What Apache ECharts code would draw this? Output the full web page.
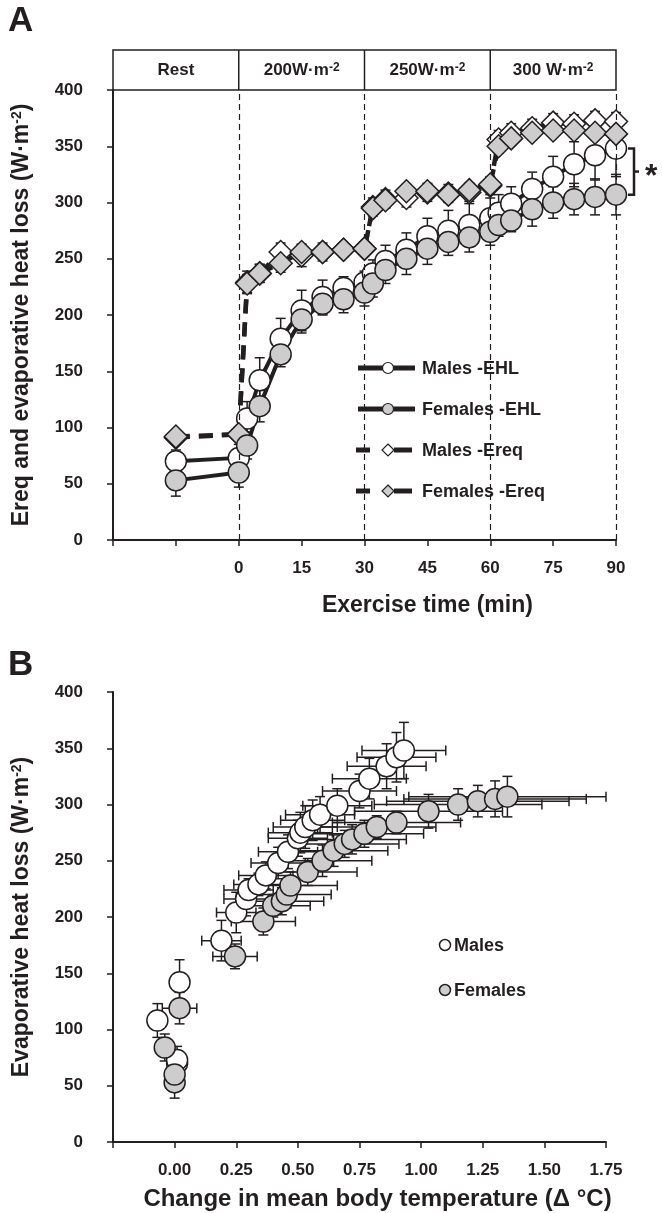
<!DOCTYPE html>
<html><head><meta charset="utf-8">
<script src="https://cdn.jsdelivr.net/npm/echarts@6/dist/echarts.min.js"></script>
<style>html,body{margin:0;padding:0;background:#fff}#c{width:662px;height:1213px}</style>
</head><body><div id="c"></div>
<script>
// ---------- DATA ----------
const timeMin = [-15, 0, 2, 5, 10, 15, 20, 25, 30, 32, 35, 40, 45, 50, 55, 60, 62, 65, 70, 75, 80, 85, 90];
const maleEHL = [70, 73, 108, 142, 179, 204, 216, 224, 229, 237, 248, 258, 270, 275, 280, 286, 291, 299, 312, 323, 334, 342, 348];
const maleEHLErr = [10, 12, 15, 20, 18, 18, 15, 10, 10, 12, 14, 15, 16, 18, 19, 18, 16, 15, 15, 18, 20, 22, 25];
const femaleEHL = [53, 60, 84, 119, 165, 196, 210, 214, 220, 228, 240, 250, 259, 265, 269, 274, 280, 284, 294, 300, 303, 305, 307];
const femaleEHLErr = [14, 13, 12, 14, 11, 12, 10, 12, 12, 12, 12, 14, 14, 12, 13, 12, 10, 10, 15, 14, 14, 16, 18];
const maleEreq = [91, 94, 229, 237, 256, 253, 256, 258, 259, 296, 303, 304, 309, 308, 309, 315, 356, 362, 366, 371, 370, 373, 372];
const maleEreqErr = [6, 6, 10, 8, 8, 10, 8, 6, 6, 8, 8, 8, 8, 8, 8, 8, 8, 8, 8, 8, 8, 8, 8];
const femaleEreq = [92, 94, 228, 237, 246, 256, 256, 258, 259, 295, 302, 310, 310, 307, 311, 316, 350, 357, 362, 364, 364, 362, 361];
const femaleEreqErr = [6, 6, 8, 8, 8, 6, 6, 6, 6, 6, 6, 6, 6, 6, 6, 6, 6, 6, 6, 6, 6, 6, 6];

const maleDeltaTb = [0.01, 0.01, -0.07, 0.02, 0.19, 0.25, 0.29, 0.30, 0.34, 0.37, 0.42, 0.46, 0.50, 0.51, 0.53, 0.56, 0.59, 0.66, 0.75, 0.79, 0.86, 0.90, 0.93];
const maleDeltaTbErr = [0.03, 0.03, 0.03, 0.03, 0.08, 0.08, 0.09, 0.10, 0.10, 0.11, 0.11, 0.12, 0.12, 0.13, 0.13, 0.13, 0.14, 0.14, 0.15, 0.15, 0.16, 0.16, 0.17];
const femaleDeltaTb = [0.00, 0.00, -0.04, 0.02, 0.245, 0.36, 0.40, 0.435, 0.455, 0.47, 0.54, 0.60, 0.645, 0.69, 0.72, 0.77, 0.82, 0.90, 1.03, 1.15, 1.23, 1.30, 1.35];
const femaleDeltaTbErr = [0.02, 0.02, 0.02, 0.07, 0.09, 0.13, 0.15, 0.17, 0.18, 0.19, 0.20, 0.20, 0.22, 0.22, 0.22, 0.24, 0.24, 0.26, 0.30, 0.34, 0.37, 0.37, 0.40];

const stageBounds = [-30, 0, 30, 60, 90];
const stageLabels = [['Rest', ''], ['200W·m', '-2'], ['250W·m', '-2'], ['300 W·m', '-2']];
const legendA = ['Males -EHL', 'Females -EHL', 'Males -Ereq', 'Females -Ereq'];
const legendB = ['Males', 'Females'];
const xTitleA = 'Exercise time (min)';
const xTitleB = 'Change in mean body temperature (Δ °C)';

// ---------- STYLE ----------
const FONT = '"Liberation Sans", Arial, Helvetica, sans-serif';
const INK = '#231f20';
const GRAY = '#cdcdcd';

const zip = (a, b) => a.map((v, i) => [v, b[i]]);
const zip3 = (a, b, c) => a.map((v, i) => [v, b[i], c[i]]);
const zip4 = (a, b, c, d) => a.map((v, i) => [v, b[i], c[i], d[i]]);

function errY(params, api) {
  const x = api.value(0), y = api.value(1), e = api.value(2);
  const a = api.coord([x, y + e]), b = api.coord([x, y - e]);
  const c = 5, st = { stroke: INK, lineWidth: 1.5 };
  return { type: 'group', children: [
    { type: 'line', shape: { x1: a[0], y1: a[1], x2: b[0], y2: b[1] }, style: st },
    { type: 'line', shape: { x1: a[0] - c, y1: a[1], x2: a[0] + c, y2: a[1] }, style: st },
    { type: 'line', shape: { x1: b[0] - c, y1: b[1], x2: b[0] + c, y2: b[1] }, style: st }
  ]};
}
function errXY(params, api) {
  const x = api.value(0), y = api.value(1), ex = api.value(2), ey = api.value(3);
  const t = api.coord([x, y + ey]), b = api.coord([x, y - ey]);
  const l = api.coord([x - ex, y]), r = api.coord([x + ex, y]);
  const c = 5, st = { stroke: INK, lineWidth: 1.5 };
  return { type: 'group', children: [
    { type: 'line', shape: { x1: t[0], y1: t[1], x2: b[0], y2: b[1] }, style: st },
    { type: 'line', shape: { x1: t[0] - c, y1: t[1], x2: t[0] + c, y2: t[1] }, style: st },
    { type: 'line', shape: { x1: b[0] - c, y1: b[1], x2: b[0] + c, y2: b[1] }, style: st },
    { type: 'line', shape: { x1: l[0], y1: l[1], x2: r[0], y2: r[1] }, style: st },
    { type: 'line', shape: { x1: l[0], y1: l[1] - c, x2: l[0], y2: l[1] + c }, style: st },
    { type: 'line', shape: { x1: r[0], y1: r[1] - c, x2: r[0], y2: r[1] + c }, style: st }
  ]};
}

const tickLbl = { color: INK, fontWeight: 'bold', fontSize: 17, fontFamily: FONT };
const supRich = {
  a: { fontSize: 23, fontWeight: 'bold', fontFamily: FONT, color: INK },
  s: { fontSize: 14, fontWeight: 'bold', fontFamily: FONT, color: INK, verticalAlign: 'top' }
};
const axLine = { show: true, onZero: false, lineStyle: { color: INK, width: 2 } };
const axTick = { show: true, length: 6, lineStyle: { color: INK, width: 1.5 } };

const option = {
  animation: false,
  backgroundColor: '#fff',
  grid: [
    { left: 113, top: 90, width: 503, height: 450 },
    { left: 113, top: 692, width: 493, height: 450 }
  ],
  xAxis: [
    { gridIndex: 0, type: 'value', min: -30, max: 90, interval: 15,
      axisLine: axLine, axisTick: axTick, splitLine: { show: false },
      axisLabel: Object.assign({ margin: 20, formatter: v => v < 0 ? '' : String(v) }, tickLbl) },
    { gridIndex: 1, type: 'value', min: -0.25, max: 1.75, interval: 0.25,
      axisLine: axLine, axisTick: axTick, splitLine: { show: false },
      axisLabel: Object.assign({ margin: 20, formatter: v => v < 0 ? '' : v.toFixed(2) }, tickLbl),
      name: xTitleB, nameLocation: 'middle', nameGap: 45,
      nameTextStyle: { color: INK, fontWeight: 'bold', fontSize: 24, fontFamily: FONT, padding: [0, 0, 0, 36] } }
  ],
  yAxis: [
    { gridIndex: 0, type: 'value', min: 0, max: 400, interval: 50,
      axisLine: axLine, axisTick: axTick, splitLine: { show: false },
      axisLabel: Object.assign({ margin: 30 }, tickLbl),
      name: '{a|Ereq and evaporative heat loss (W·m}{s|-2}{a|)}', nameLocation: 'middle', nameGap: 80, nameRotate: 90,
      nameTextStyle: { rich: supRich } },
    { gridIndex: 1, type: 'value', min: 0, max: 400, interval: 50,
      axisLine: axLine, axisTick: axTick, splitLine: { show: false },
      axisLabel: Object.assign({ margin: 30 }, tickLbl),
      name: '{a|Evaporative heat loss (W·m}{s|-2}{a|)}', nameLocation: 'middle', nameGap: 80, nameRotate: 90,
      nameTextStyle: { rich: supRich } }
  ],
  series: [
    // connecting lines (panel A)
    { type: 'line', xAxisIndex: 0, yAxisIndex: 0, z: 2, showSymbol: false, silent: true,
      data: zip(timeMin, maleEreq), lineStyle: { color: INK, width: 4.5, type: [14, 9] },
      markLine: { silent: true, symbol: ['none', 'none'], label: { show: false },
        lineStyle: { color: INK, width: 1.2, type: [6, 4] },
        data: stageBounds.slice(1).map(v => ({ xAxis: v })) } },
    { type: 'line', xAxisIndex: 0, yAxisIndex: 0, z: 2, showSymbol: false, silent: true,
      data: zip(timeMin, femaleEreq), lineStyle: { color: INK, width: 4.5, type: [14, 9] } },
    { type: 'line', xAxisIndex: 0, yAxisIndex: 0, z: 2, showSymbol: false, silent: true,
      data: zip(timeMin, maleEHL), lineStyle: { color: INK, width: 4 } },
    { type: 'line', xAxisIndex: 0, yAxisIndex: 0, z: 2, showSymbol: false, silent: true,
      data: zip(timeMin, femaleEHL), lineStyle: { color: INK, width: 4 } },
    // error bars (panel A)
    { type: 'custom', xAxisIndex: 0, yAxisIndex: 0, z: 3, silent: true, renderItem: errY, encode: { x: 0, y: 1 }, data: zip3(timeMin, maleEreq, maleEreqErr) },
    { type: 'custom', xAxisIndex: 0, yAxisIndex: 0, z: 3, silent: true, renderItem: errY, encode: { x: 0, y: 1 }, data: zip3(timeMin, femaleEreq, femaleEreqErr) },
    { type: 'custom', xAxisIndex: 0, yAxisIndex: 0, z: 3, silent: true, renderItem: errY, encode: { x: 0, y: 1 }, data: zip3(timeMin, maleEHL, maleEHLErr) },
    { type: 'custom', xAxisIndex: 0, yAxisIndex: 0, z: 3, silent: true, renderItem: errY, encode: { x: 0, y: 1 }, data: zip3(timeMin, femaleEHL, femaleEHLErr) },
    // markers (panel A)
    { type: 'scatter', xAxisIndex: 0, yAxisIndex: 0, z: 4, silent: true, symbol: 'diamond', symbolSize: 23,
      itemStyle: { color: '#fff', borderColor: INK, borderWidth: 1.5, opacity: 1 }, data: zip(timeMin, maleEreq) },
    { type: 'scatter', xAxisIndex: 0, yAxisIndex: 0, z: 5, silent: true, symbol: 'diamond', symbolSize: 23,
      itemStyle: { color: GRAY, borderColor: INK, borderWidth: 1.5, opacity: 1 }, data: zip(timeMin, femaleEreq) },
    { type: 'scatter', xAxisIndex: 0, yAxisIndex: 0, z: 4, silent: true, symbol: 'circle', symbolSize: 21,
      itemStyle: { color: '#fff', borderColor: INK, borderWidth: 1.5, opacity: 1 }, data: zip(timeMin, maleEHL) },
    { type: 'scatter', xAxisIndex: 0, yAxisIndex: 0, z: 5, silent: true, symbol: 'circle', symbolSize: 21,
      itemStyle: { color: GRAY, borderColor: INK, borderWidth: 1.5, opacity: 1 }, data: zip(timeMin, femaleEHL) },
    // panel B
    { type: 'custom', xAxisIndex: 1, yAxisIndex: 1, z: 3, silent: true, renderItem: errXY, encode: { x: 0, y: 1 }, data: zip4(maleDeltaTb, maleEHL, maleDeltaTbErr, maleEHLErr) },
    { type: 'custom', xAxisIndex: 1, yAxisIndex: 1, z: 3, silent: true, renderItem: errXY, encode: { x: 0, y: 1 }, data: zip4(femaleDeltaTb, femaleEHL, femaleDeltaTbErr, femaleEHLErr) },
    { type: 'scatter', xAxisIndex: 1, yAxisIndex: 1, z: 4, silent: true, symbol: 'circle', symbolSize: 21,
      itemStyle: { color: '#fff', borderColor: INK, borderWidth: 1.5, opacity: 1 }, data: zip(maleDeltaTb, maleEHL) },
    { type: 'scatter', xAxisIndex: 1, yAxisIndex: 1, z: 5, silent: true, symbol: 'circle', symbolSize: 21,
      itemStyle: { color: GRAY, borderColor: INK, borderWidth: 1.5, opacity: 1 }, data: zip(femaleDeltaTb, femaleEHL) }
  ]
};

const chart = echarts.init(document.getElementById('c'), null, { renderer: 'canvas' });
chart.setOption(option);

const pA = pt => chart.convertToPixel({ gridIndex: 0 }, pt);
const g = [];
const txt = (x, y, text, size, align, extra) => ({ type: 'text', z: 50, x, y,
  style: Object.assign({ text, fill: INK, fontSize: size, fontWeight: 'bold', fontFamily: FONT, align: align || 'left', verticalAlign: 'middle' }, extra || {}) });

// panel letters
g.push(txt(8, 21, 'A', 35));
g.push(txt(8, 665, 'B', 35));

// header box over panel A
const top400 = pA([0, 400])[1];
const hx0 = pA([stageBounds[0], 400])[0], hx1 = pA([stageBounds[stageBounds.length - 1], 400])[0];
g.push({ type: 'rect', z: 50, shape: { x: hx0, y: top400 - 40, width: hx1 - hx0, height: 40 },
  style: { fill: 'none', stroke: INK, lineWidth: 1.5 } });
for (let i = 1; i < stageBounds.length - 1; i++) {
  const x = pA([stageBounds[i], 400])[0];
  g.push({ type: 'line', z: 50, shape: { x1: x, y1: top400 - 40, x2: x, y2: top400 }, style: { stroke: INK, lineWidth: 1.5 } });
}
const hdrRich = {
  b: { fontSize: 17, fontWeight: 'bold', fontFamily: FONT, fill: INK },
  s: { fontSize: 12, fontWeight: 'bold', fontFamily: FONT, fill: INK, verticalAlign: 'top' }
};
stageLabels.forEach((lab, i) => {
  const xm = (pA([stageBounds[i], 400])[0] + pA([stageBounds[i + 1], 400])[0]) / 2;
  const t = lab[1] ? '{b|' + lab[0] + '}{s|' + lab[1] + '}' : '{b|' + lab[0] + '}';
  g.push({ type: 'text', z: 50, x: xm, y: top400 - 20, style: { text: t, rich: hdrRich, align: 'center', verticalAlign: 'middle' } });
});

// x title panel A
const xa = pA([45, 0]);
g.push(txt(xa[0], xa[1] + 66, xTitleA, 23, 'center'));

// significance bracket at t=90
const last = timeMin.length - 1;
const bTop = pA([timeMin[last], maleEHL[last]]), bBot = pA([timeMin[last], femaleEHL[last]]);
const bx = bTop[0] + 18;
const bst = { stroke: INK, lineWidth: 2.5 };
g.push({ type: 'polyline', z: 50, shape: { points: [[bx - 6, bTop[1]], [bx, bTop[1]], [bx, bBot[1]], [bx - 6, bBot[1]]] }, style: Object.assign({ fill: 'none' }, bst) });
g.push({ type: 'line', z: 50, shape: { x1: bx, y1: (bTop[1] + bBot[1]) / 2, x2: bx + 5, y2: (bTop[1] + bBot[1]) / 2 }, style: bst });
g.push(txt(bx + 11, (bTop[1] + bBot[1]) / 2 + 6, '*', 32, 'left'));

// legend panel A
const legY = [368, 409, 450, 491];
legY.forEach((y, i) => {
  if (i < 2) {
    g.push({ type: 'line', z: 50, shape: { x1: 358, y1: y, x2: 415, y2: y }, style: { stroke: INK, lineWidth: 5 } });
    g.push({ type: 'circle', z: 51, shape: { cx: 388, cy: y, r: 5.5 }, style: { fill: i === 0 ? '#fff' : GRAY, stroke: INK, lineWidth: 1.2 } });
  } else {
    g.push({ type: 'line', z: 50, shape: { x1: 356, y1: y, x2: 370, y2: y }, style: { stroke: INK, lineWidth: 5 } });
    g.push({ type: 'line', z: 50, shape: { x1: 394, y1: y, x2: 412, y2: y }, style: { stroke: INK, lineWidth: 5 } });
    g.push({ type: 'polygon', z: 51, shape: { points: [[388, y - 6], [394, y], [388, y + 6], [382, y]] }, style: { fill: i === 2 ? '#fff' : GRAY, stroke: INK, lineWidth: 1.2 } });
  }
  g.push(txt(422, y + 1, legendA[i], 18, 'left'));
});

// legend panel B
[945, 990].forEach((y, i) => {
  g.push({ type: 'circle', z: 51, shape: { cx: 445, cy: y, r: 5.5 }, style: { fill: i === 0 ? '#fff' : GRAY, stroke: INK, lineWidth: 1.5 } });
  g.push(txt(454, y + 1, legendB[i], 18, 'left'));
});

chart.setOption({ graphic: g });
</script></body></html>
